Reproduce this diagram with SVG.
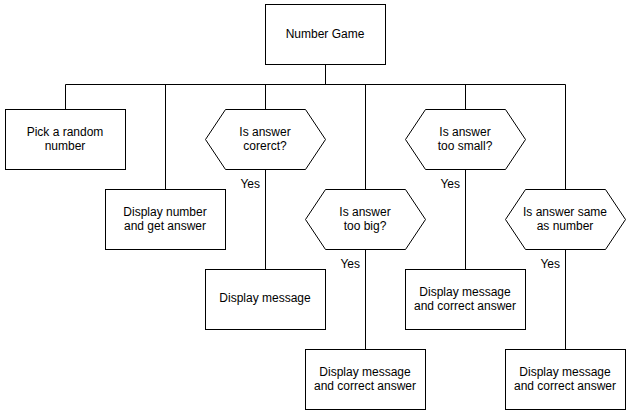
<svg xmlns="http://www.w3.org/2000/svg" width="631" height="415" viewBox="0 0 631 415">
<style>
.s{fill:#fff;stroke:#000;stroke-width:1}
.t{font-family:"Liberation Sans",Arial,sans-serif;font-size:12px;fill:#000;text-anchor:middle}
.y{font-family:"Liberation Sans",Arial,sans-serif;font-size:12px;fill:#000;text-anchor:end}
.c{fill:none;stroke:#000;stroke-width:1}
</style>
<rect width="631" height="415" fill="#fff"/>
<g transform="translate(0,-1)">
<g id="connectors" class="c">
<path d="M325.5 65.5V85.5M65.5 85.5H565.5M65.5 85.5V110.5M165.5 85.5V190.5M265.5 85.5V110.5M365.5 85.5V190.5M465.5 85.5V110.5M565.5 85.5V190.5M265.5 170.5V270.5M365.5 250.5V350.5M465.5 170.5V270.5M565.5 250.5V350.5"/>
</g>
<g id="n0"><rect class="s" x="265.5" y="5.5" width="120" height="60"/><text class="t" x="325" y="39">Number Game</text></g>
<g id="n1"><rect class="s" x="5.5" y="110.5" width="120" height="60"/><text class="t" x="65" y="136.5">Pick a random</text><text class="t" x="65" y="150.5">number</text></g>
<g id="n2"><rect class="s" x="105.5" y="190.5" width="120" height="60"/><text class="t" x="165" y="216.5">Display number</text><text class="t" x="165" y="230.5">and get answer</text></g>
<g id="n3"><polygon class="s" points="205.5,140.5 225.5,110.5 305.5,110.5 325.5,140.5 305.5,170.5 225.5,170.5"/><text class="t" x="265" y="136.5">Is answer</text><text class="t" x="265" y="150.5">corerct?</text><text class="y" x="260" y="188.5">Yes</text></g>
<g id="n4"><rect class="s" x="205.5" y="270.5" width="120" height="60"/><text class="t" x="265" y="303">Display message</text></g>
<g id="n5"><polygon class="s" points="305.5,220.5 325.5,190.5 405.5,190.5 425.5,220.5 405.5,250.5 325.5,250.5"/><text class="t" x="365" y="216.5">Is answer</text><text class="t" x="365" y="230.5">too big?</text><text class="y" x="360" y="268.5">Yes</text></g>
<g id="n6"><rect class="s" x="305.5" y="350.5" width="120" height="60"/><text class="t" x="365" y="376.5">Display message</text><text class="t" x="365" y="390.5">and correct answer</text></g>
<g id="n7"><polygon class="s" points="405.5,140.5 425.5,110.5 505.5,110.5 525.5,140.5 505.5,170.5 425.5,170.5"/><text class="t" x="465" y="136.5">Is answer</text><text class="t" x="465" y="150.5">too small?</text><text class="y" x="460" y="188.5">Yes</text></g>
<g id="n8"><rect class="s" x="405.5" y="270.5" width="120" height="60"/><text class="t" x="465" y="296.5">Display message</text><text class="t" x="465" y="310.5">and correct answer</text></g>
<g id="n9"><polygon class="s" points="505.5,220.5 525.5,190.5 605.5,190.5 625.5,220.5 605.5,250.5 525.5,250.5"/><text class="t" x="565" y="216.5">Is answer same</text><text class="t" x="565" y="230.5">as number</text><text class="y" x="560" y="268.5">Yes</text></g>
<g id="n10"><rect class="s" x="505.5" y="350.5" width="120" height="60"/><text class="t" x="565" y="376.5">Display message</text><text class="t" x="565" y="390.5">and correct answer</text></g>
</g>
</svg>
